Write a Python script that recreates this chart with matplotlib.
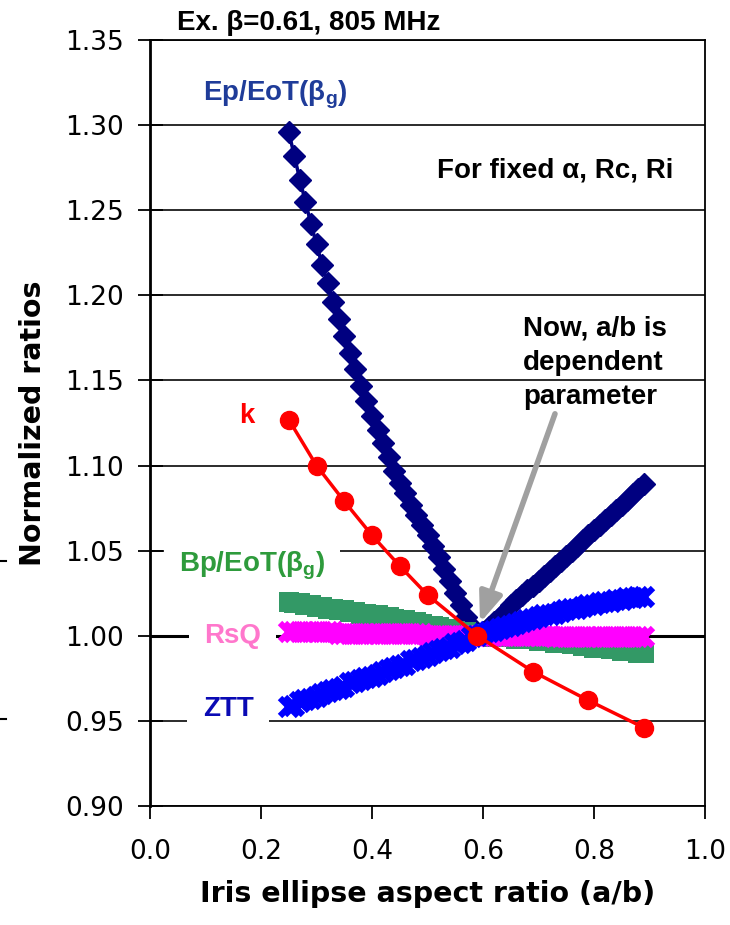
import numpy as np
import matplotlib
matplotlib.use('Agg')
import matplotlib.pyplot as plt
from matplotlib.lines import Line2D

plt.rcParams['font.family'] = 'DejaVu Sans'
plt.rcParams['mathtext.fontset'] = 'custom'
plt.rcParams['mathtext.rm'] = 'Liberation Sans:bold'
plt.rcParams['mathtext.it'] = 'Liberation Sans:bold'
plt.rcParams['mathtext.bf'] = 'Liberation Sans:bold'

# iris ellipse aspect ratio a/b (shared grid for the dense series)
ab = [0.25, 0.26, 0.27, 0.28, 0.29, 0.30, 0.31, 0.32, 0.33, 0.34,
      0.35, 0.36, 0.37, 0.38, 0.39, 0.40, 0.41, 0.42, 0.43, 0.44,
      0.45, 0.46, 0.47, 0.48, 0.49, 0.50, 0.51, 0.52, 0.53, 0.54,
      0.55, 0.56, 0.57, 0.58, 0.59, 0.60, 0.61, 0.62, 0.63, 0.64,
      0.65, 0.66, 0.67, 0.68, 0.69, 0.70, 0.71, 0.72, 0.73, 0.74,
      0.75, 0.76, 0.77, 0.78, 0.79, 0.80, 0.81, 0.82, 0.83, 0.84,
      0.85, 0.86, 0.87, 0.88, 0.89]

ep_eot = [1.296, 1.282, 1.268, 1.255, 1.242, 1.230, 1.218, 1.207, 1.196, 1.186,
          1.176, 1.166, 1.157, 1.147, 1.138, 1.129, 1.121, 1.113, 1.105, 1.097,
          1.090, 1.084, 1.077, 1.071, 1.065, 1.059, 1.053, 1.046, 1.039, 1.032,
          1.025, 1.018, 1.011, 1.005, 1.001, 1.002, 1.005, 1.008, 1.011, 1.014,
          1.018, 1.021, 1.024, 1.027, 1.029, 1.032, 1.035, 1.038, 1.041, 1.044,
          1.047, 1.050, 1.053, 1.056, 1.059, 1.062, 1.065, 1.068, 1.071, 1.074,
          1.077, 1.080, 1.083, 1.086, 1.089]

bp_eot = [1.020, 1.0195, 1.019, 1.018, 1.018, 1.017, 1.017, 1.016, 1.016, 1.015,
          1.015, 1.014, 1.014, 1.013, 1.013, 1.012, 1.012, 1.011, 1.011, 1.010,
          1.009, 1.009, 1.008, 1.008, 1.007, 1.006, 1.006, 1.005, 1.004, 1.004,
          1.003, 1.002, 1.002, 1.001, 1.000, 1.000, 1.000, 0.999, 0.999, 0.999,
          0.999, 0.998, 0.998, 0.998, 0.998, 0.997, 0.997, 0.997, 0.996, 0.996,
          0.996, 0.995, 0.995, 0.994, 0.994, 0.993, 0.993, 0.993, 0.992, 0.992,
          0.991, 0.991, 0.991, 0.990, 0.990]

rsq = [1.002, 1.002, 1.002, 1.002, 1.002, 1.002, 1.002, 1.002, 1.002, 1.001,
       1.001, 1.001, 1.001, 1.001, 1.001, 1.001, 1.001, 1.001, 1.001, 1.001,
       1.001, 1.001, 1.001, 1.001, 1.001, 1.000, 1.000, 1.000, 1.000, 1.000,
       1.000, 1.000, 1.000, 1.000, 1.000, 1.000, 1.000, 1.000, 1.000, 1.000,
       1.000, 1.000, 1.000, 1.000, 1.000, 1.000, 1.000, 1.000, 0.999, 0.999,
       0.999, 0.999, 0.999, 0.999, 0.999, 0.999, 0.999, 0.999, 0.999, 0.999,
       0.999, 0.999, 0.999, 0.999, 0.999]

ztt = [0.958, 0.959, 0.961, 0.962, 0.963, 0.964, 0.966, 0.967, 0.968, 0.969,
       0.970, 0.972, 0.973, 0.974, 0.975, 0.976, 0.977, 0.979, 0.980, 0.981,
       0.982, 0.983, 0.985, 0.986, 0.987, 0.988, 0.990, 0.991, 0.992, 0.993,
       0.995, 0.996, 0.997, 0.999, 1.000, 1.001, 1.002, 1.003, 1.004, 1.005,
       1.006, 1.007, 1.008, 1.009, 1.010, 1.011, 1.012, 1.012, 1.013, 1.014,
       1.015, 1.016, 1.016, 1.017, 1.018, 1.018, 1.019, 1.020, 1.020, 1.021,
       1.021, 1.022, 1.022, 1.023, 1.023]

# coupling factor k, coarser sampling
k_ab = [0.25, 0.30, 0.35, 0.40, 0.45, 0.50, 0.59, 0.69, 0.79, 0.89]
k_val = [1.127, 1.100, 1.079, 1.059, 1.041, 1.024, 1.000, 0.979, 0.962, 0.946]

fig = plt.figure(figsize=(7.3, 9.25), dpi=100)
ax = fig.add_axes([150/730, 1 - 806/925, 555/730, 766/925])

# horizontal grid, 1.00 line a bit heavier
ax.set_axisbelow(True)
ax.yaxis.grid(True, color='#1a1a1a', lw=1.3, zorder=0.5)
ax.axhline(1.0, color='black', lw=2.2, zorder=1)

ax.plot(ab, ep_eot, color='#000080', marker='D', ms=11.5, mew=1, lw=2.5, zorder=4)
ax.plot(ab, bp_eot, color='#339966', marker='s', ms=14.5, mew=0, lw=0, zorder=4)
ax.plot(ab, rsq, color='#FF00FF', marker='x', ms=12.5, mew=4.5, lw=0, zorder=5)
ax.plot(ab, ztt, color='#0000FF', marker='x', ms=12.5, mew=4.5, lw=0, zorder=6)
ax.plot(k_ab, k_val, color='#FF0000', marker='o', ms=13, lw=2.5, zorder=7)

ax.set_xlim(0.0, 1.0)
ax.set_ylim(0.90, 1.35)
ax.set_xticks([0.0, 0.2, 0.4, 0.6, 0.8, 1.0])
ax.set_yticks([0.90, 0.95, 1.00, 1.05, 1.10, 1.15, 1.20, 1.25, 1.30, 1.35])
ax.set_xticklabels(['%.1f' % v for v in ax.get_xticks()])
ax.set_yticklabels(['%.2f' % v for v in ax.get_yticks()])
ax.tick_params(axis='y', direction='inout', length=18, width=1.3, labelsize=19, pad=10)
ax.tick_params(axis='x', direction='out', length=9, width=1.3, labelsize=19, pad=15)
for side in ['top', 'right', 'bottom']:
    ax.spines[side].set_linewidth(1.3)
ax.spines['left'].set_linewidth(2)

ax.set_xlabel('Iris ellipse aspect ratio (a/b)', fontsize=20.5, fontweight='bold')
ax.set_ylabel('Normalized ratios', fontsize=20.5, fontweight='bold')
ax.xaxis.set_label_coords(0.5, -0.096)
ax.yaxis.set_label_coords(-0.185, 0.5)

lab = dict(family='Liberation Sans', fontweight='bold', fontsize=20)
box = dict(boxstyle='square,pad=0.55', fc='white', ec='none')

ax.text((177 - 150) / 555, 1.356, 'Ex. β=0.61, 805 MHz', ha='left', va='baseline',
        color='black', **lab)
ax.text(0.0955, 1.3147, 'Ep/EoT(β$_{g}$)', color='#1F3C99', ha='left', va='baseline', **lab)
ax.text(0.517, 1.2695, 'For fixed α, Rc, Ri', color='black', ha='left', va='baseline', **lab)
ax.text(0.672, 1.188, 'Now, a/b is\ndependent\nparameter', color='black',
        ha='left', va='top', linespacing=1.4, **lab)
ax.text(0.175, 1.125, 'k', color='#FF0000', ha='center', va='baseline', **lab)
ax.text(0.0523, 1.038, 'Bp/EoT(β$_{g}$)', color='#2E9B3C', ha='left', va='baseline',
        bbox=box, zorder=3, **lab)
ax.text(0.0973, 1.0, 'RsQ', color='#FF77CC', ha='left', va='center', bbox=box, zorder=3, **lab)
ax.text(0.095, 0.957, 'ZTT', color='#0A0AB4', ha='left', va='center', bbox=box, zorder=3, **lab)

ax.annotate('', xy=(0.5946, 1.0076), xytext=(0.7297, 1.1304),
            arrowprops=dict(arrowstyle='-|>,head_length=0.9,head_width=0.35',
                            color='#A0A0A0', lw=4, mutation_scale=20,
                            shrinkA=0, shrinkB=0), zorder=8)

# small stray ticks at the left edge of the original slide
for yy in [561, 719]:
    fig.add_artist(Line2D([0, 6 / 730], [1 - yy / 925] * 2, color='black', lw=1.5))

fig.savefig('out.png', dpi=100)
